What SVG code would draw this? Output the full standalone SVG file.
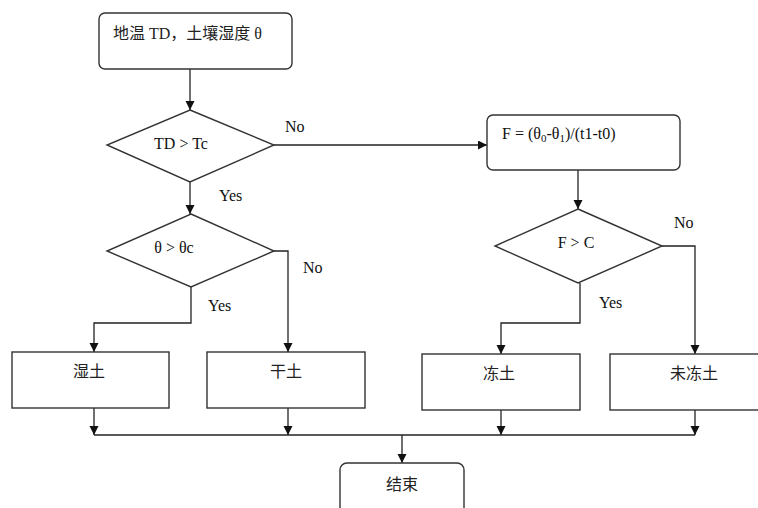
<svg xmlns="http://www.w3.org/2000/svg" width="758" height="508" viewBox="0 0 758 508">
<defs>
<marker id="arr" markerWidth="10" markerHeight="10" refX="9" refY="4.5" orient="auto" markerUnits="userSpaceOnUse">
<path d="M0,0 L9,4.5 L0,9 Z" fill="#111"/>
</marker>
<style>
.s{fill:#fff;stroke:#333;stroke-width:1.4}
.c{fill:none;stroke:#222;stroke-width:1.3}
.a{marker-end:url(#arr)}
.t{font-family:"Liberation Serif","Noto Sans CJK SC",serif;font-size:16px;fill:#111}
.z{font-family:"Liberation Serif","Noto Sans CJK SC",serif;font-size:16px;fill:#222}
</style>
</defs>
<rect width="758" height="508" fill="#fff"/>
<g id="connectors">
<path class="c a" d="M190,69 V110"/>
<path class="c a" d="M274,145 H487"/>
<path class="c a" d="M190,182 V214"/>
<path class="c a" d="M191,287 V323 H94 V352"/>
<path class="c a" d="M274,251 H288 V352"/>
<path class="c a" d="M578,170 V209"/>
<path class="c a" d="M580,283 V323 H501 V354"/>
<path class="c a" d="M662,246 H695 V354"/>
<path class="c a" d="M94,408 V435"/>
<path class="c a" d="M288,408 V435"/>
<path class="c a" d="M501,410 V435"/>
<path class="c a" d="M695,410 V435"/>
<path class="c" d="M94,435 H695"/>
<path class="c a" d="M402,435 V463"/>
<text class="t" x="285" y="132">No</text>
<text class="t" x="219" y="201">Yes</text>
<text class="t" x="303" y="273">No</text>
<text class="t" x="208" y="311">Yes</text>
<text class="t" x="674" y="228">No</text>
<text class="t" x="599" y="308">Yes</text>
</g>
<g id="start">
<rect class="s" x="99" y="13" width="193" height="56" rx="6"/>
<text class="z" x="113" y="39">地温 TD，土壤湿度 θ</text>
</g>
<g id="d1">
<polygon class="s" points="190,110 274,145 190,182 107,145"/>
<text class="t" x="181" y="149" text-anchor="middle">TD &gt; Tc</text>
</g>
<g id="d2">
<polygon class="s" points="191,214 274,251 191,287 107,251"/>
<text class="t" x="174" y="253" text-anchor="middle">θ &gt; θc</text>
</g>
<g id="fbox">
<rect class="s" x="487" y="115" width="193" height="55" rx="6"/>
<text class="t" x="502" y="139">F = (θ<tspan font-size="11" dy="3">0</tspan><tspan dy="-3">-θ</tspan><tspan font-size="11" dy="3">1</tspan><tspan dy="-3">)/(t1-t0)</tspan></text>
</g>
<g id="d3">
<polygon class="s" points="578,209 662,246 578,283 495,246"/>
<text class="t" x="576" y="248" text-anchor="middle">F &gt; C</text>
</g>
<g id="wet">
<rect class="s" x="12" y="352" width="157" height="56"/>
<text class="z" x="89" y="377" text-anchor="middle">湿土</text>
</g>
<g id="dry">
<rect class="s" x="207" y="352" width="158" height="56"/>
<text class="z" x="286" y="377" text-anchor="middle">干土</text>
</g>
<g id="frozen">
<rect class="s" x="422" y="354" width="158" height="56"/>
<text class="z" x="499" y="379" text-anchor="middle">冻土</text>
</g>
<g id="unfrozen">
<rect class="s" x="610" y="354" width="160" height="56"/>
<text class="z" x="694" y="379" text-anchor="middle">未冻土</text>
</g>
<g id="end">
<rect class="s" x="340" y="463" width="124" height="60" rx="7"/>
<text class="z" x="402" y="490" text-anchor="middle">结束</text>
</g>
</svg>
